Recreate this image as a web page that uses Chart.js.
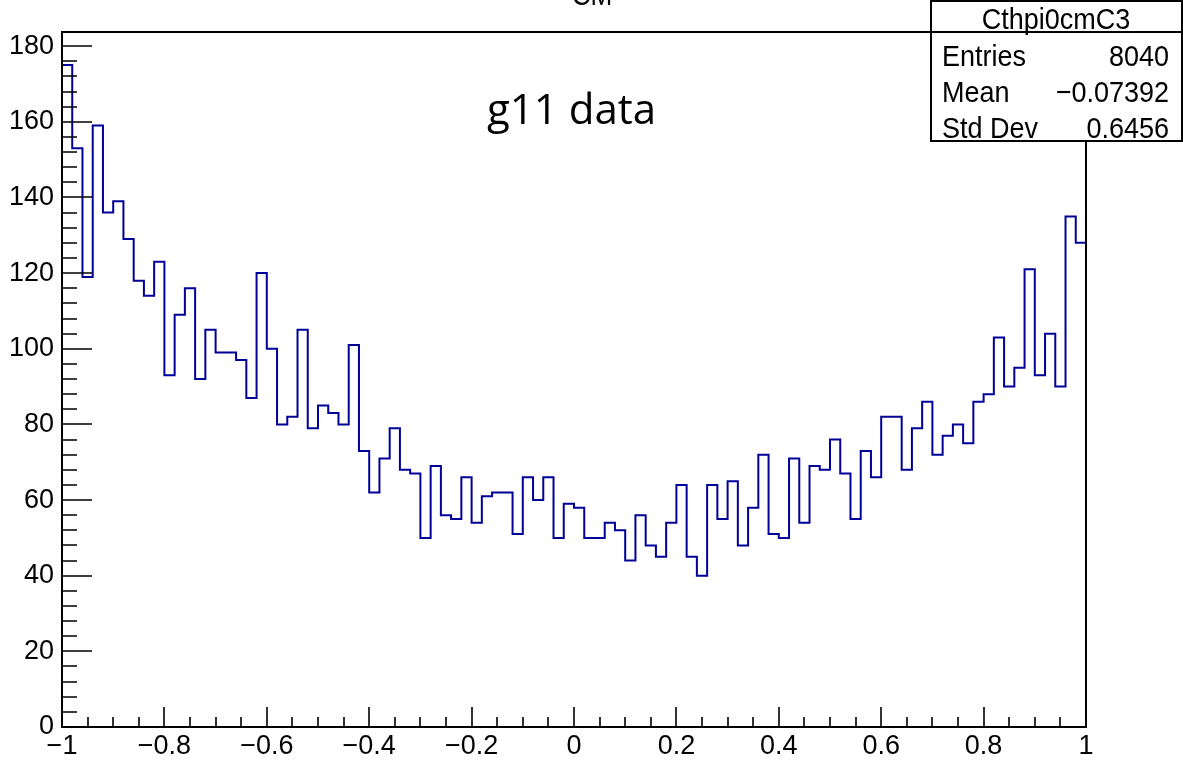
<!DOCTYPE html>
<html>
<head>
<meta charset="UTF-8">
<title>Cthpi0cmC3</title>
<script src="https://cdn.jsdelivr.net/npm/chart.js"></script>
<style>
  html, body { margin: 0; padding: 0; background: #fff; }
  #wrap { width: 1183px; height: 760px; }
</style>
</head>
<body>
<div id="wrap"><canvas id="histo"></canvas></div>
<script>
// histogram Cthpi0cmC3: 100 bins from -1 to 1
const binLow = -1;
const binWidth = 0.02;
const binCounts = [
  175, 153, 119, 159, 136, 139, 129, 118, 114, 123,
   93, 109, 116,  92, 105,  99,  99,  97,  87, 120,
  100,  80,  82, 105,  79,  85,  83,  80, 101,  73,
   62,  71,  79,  68,  67,  50,  69,  56,  55,  66,
   54,  61,  62,  62,  51,  66,  60,  66,  50,  59,
   58,  50,  50,  54,  52,  44,  56,  48,  45,  54,
   64,  45,  40,  64,  55,  65,  48,  58,  72,  51,
   50,  71,  54,  69,  68,  76,  67,  55,  73,  66,
   82,  82,  68,  79,  86,  72,  77,  80,  75,  86,
   88, 103,  90,  95, 121,  93, 104,  90, 135, 128
];
const xTickValues = [-1, -0.8, -0.6, -0.4, -0.2, 0, 0.2, 0.4, 0.6, 0.8, 1];
const xTickLabels = ['\u22121', '\u22120.8', '\u22120.6', '\u22120.4', '\u22120.2', '0', '0.2', '0.4', '0.6', '0.8', '1'];
const yTickValues = [0, 20, 40, 60, 80, 100, 120, 140, 160, 180];
const yTickLabels = ['0', '20', '40', '60', '80', '100', '120', '140', '160', '180'];
const statsTitle = 'Cthpi0cmC3';
const statsNames = ['Entries', 'Mean', 'Std Dev'];
const statsValues = ['8040', '\u22120.07392', '0.6456'];

// left edge of each bin, plus the closing edge at x = 1
const points = binCounts.map((c, i) => ({ x: binLow + binWidth * i, y: c }));
points.push({ x: binLow + binWidth * binCounts.length, y: binCounts[binCounts.length - 1] });

const axisFont = { family: 'Liberation Sans', size: 27 };

// ROOT-like frame, inward ticks, stats box and labels
const rootDecor = {
  id: 'rootDecor',
  afterDraw(chart) {
    const ctx = chart.ctx;
    const a = chart.chartArea;
    const xs = chart.scales.x, ys = chart.scales.y;
    ctx.save();
    ctx.strokeStyle = '#000';
    ctx.lineWidth = 2;
    ctx.strokeRect(a.left, a.top, a.right - a.left, a.bottom - a.top);

    ctx.beginPath();
    for (let v = 0; v <= ys.max; v += 4) {
      const y = Math.round(ys.getPixelForValue(v));
      const len = v % 20 === 0 ? 30 : 15;
      ctx.moveTo(a.left, y);
      ctx.lineTo(a.left + len, y);
    }
    for (let k = 0; k <= 40; k++) {
      const v = -1 + k * 0.05;
      const x = Math.round(xs.getPixelForValue(v));
      const len = k % 4 === 0 ? 20 : 10;
      ctx.moveTo(x, a.bottom);
      ctx.lineTo(x, a.bottom - len);
    }
    ctx.lineWidth = 1.6;
    ctx.stroke();

    // title, mostly cut off by the top edge
    ctx.fillStyle = '#000';
    ctx.textBaseline = 'alphabetic';
    ctx.save();
    ctx.translate(592, 5);
    ctx.scale(0.9, 1);
    ctx.font = '29px "Liberation Sans"';
    ctx.textAlign = 'center';
    ctx.fillText('CM', 0, 0);
    ctx.restore();

    // stats box
    const bx = 931, by = 1, bw = 251, bh = 140;
    ctx.fillStyle = '#fff';
    ctx.fillRect(bx, by, bw, bh);
    ctx.lineWidth = 2;
    ctx.strokeRect(bx, by, bw, bh);
    ctx.beginPath();
    ctx.moveTo(bx, 32);
    ctx.lineTo(bx + bw, 32);
    ctx.stroke();
    ctx.fillStyle = '#000';

    const drawNarrow = (txt, x, y, align) => {
      ctx.save();
      ctx.translate(x, y);
      ctx.scale(0.9, 1);
      ctx.font = '30px "Liberation Sans"';
      ctx.textAlign = align;
      ctx.fillText(txt, 0, 0);
      ctx.restore();
    };
    drawNarrow(statsTitle, 1056, 29, 'center');
    statsNames.forEach((n, i) => {
      const y = 66 + i * 36;
      drawNarrow(n, 942, y, 'left');
      drawNarrow(statsValues[i], 1169, y, 'right');
    });

    // annotation
    ctx.font = '42px "Open Sans"';
    ctx.textAlign = 'left';
    ctx.fillText('g11 data', 487, 124);
    ctx.restore();
  }
};

new Chart(document.getElementById('histo'), {
  type: 'line',
  data: {
    datasets: [{
      label: statsTitle,
      data: points,
      stepped: 'before',
      borderColor: '#000099',
      borderWidth: 2,
      pointRadius: 0,
      fill: false
    }]
  },
  options: {
    responsive: true,
    maintainAspectRatio: false,
    animation: false,
    layout: { padding: { top: 32, right: 97, left: 0, bottom: 0 } },
    plugins: {
      legend: { display: false },
      tooltip: { enabled: false }
    },
    scales: {
      x: {
        type: 'linear',
        min: -1,
        max: 1,
        grid: { display: false, drawTicks: false },
        border: { display: false },
        afterBuildTicks: s => { s.ticks = xTickValues.map(v => ({ value: v })); },
        afterFit: s => { s.height = 33; },
        ticks: {
          font: axisFont,
          color: '#000',
          padding: 3,
          maxRotation: 0,
          autoSkip: false,
          callback: (v, i) => xTickLabels[i]
        }
      },
      y: {
        type: 'linear',
        min: 0,
        max: 183.75,
        grid: { display: false, drawTicks: false },
        border: { display: false },
        afterBuildTicks: s => { s.ticks = yTickValues.map(v => ({ value: v })); },
        afterFit: s => { s.width = 62; },
        ticks: {
          font: axisFont,
          color: '#000',
          padding: 8,
          autoSkip: false,
          callback: (v, i) => yTickLabels[i]
        }
      }
    }
  },
  plugins: [rootDecor]
});
</script>
</body>
</html>
